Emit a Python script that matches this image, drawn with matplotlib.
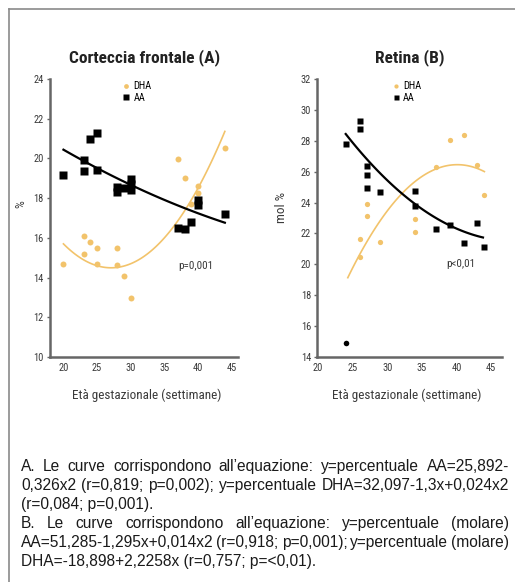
import matplotlib
matplotlib.use('Agg')
import matplotlib.pyplot as plt
import numpy as np
from matplotlib.lines import Line2D

# ---- data ----
# Corteccia frontale (A)
ctx_dha_x = [20, 23, 23, 24, 25, 25, 28, 28, 29, 30, 37, 38, 39, 40, 40, 44]
ctx_dha_y = [14.67, 16.08, 15.19, 15.8, 15.5, 14.67, 15.5, 14.63, 14.08, 12.95,
             19.99, 19.03, 17.73, 18.59, 18.28, 20.55]
ctx_aa_x = [20, 23, 23, 24, 25, 25, 28, 28, 29, 30, 30, 30, 37, 38, 39, 40, 40, 44]
ctx_aa_y = [19.19, 19.92, 19.38, 20.97, 21.30, 19.42, 18.55, 18.31, 18.51, 18.94,
            18.70, 18.43, 16.48, 16.44, 16.81, 17.92, 17.65, 17.21]
# quadratic trend lines (coefficients, highest power first) and x range
ctx_dha_fit = [0.024, -1.3, 32.097]
ctx_dha_range = (20, 44)
ctx_aa_fit = [0.0017, -0.262, 25.0]
ctx_aa_range = (20, 44)

# Retina (B)
ret_dha_x = [26, 26, 27, 27, 29, 34, 34, 37, 39, 41, 43, 44]
ret_dha_y = [20.46, 21.65, 23.89, 23.16, 21.43, 22.93, 22.08, 26.31, 28.02, 28.38, 26.41, 24.50]
ret_aa_x = [24, 26, 26, 27, 27, 27, 29, 34, 34, 37, 39, 41, 43, 44]
ret_aa_y = [27.77, 29.30, 28.75, 26.39, 25.80, 24.93, 24.68, 24.76, 23.79, 22.26,
            22.55, 21.37, 22.65, 21.09]
ret_out_x = [24]
ret_out_y = [14.9]
ret_dha_fit = [-0.02933, 2.352, -20.70]
ret_dha_range = (24.3, 44)
ret_aa_fit = [0.01172, -1.133, 48.88]
ret_aa_range = (24, 43.8)

xticks = [20, 25, 30, 35, 40, 45]
ctx_yticks = [10, 12, 14, 16, 18, 20, 22, 24]
ret_yticks = [14, 16, 18, 20, 22, 24, 26, 28, 30, 32]

caption = [
    ["A. Le curve corrispondono all\u2019equazione: y=percentuale AA=25,892-",
     "0,326x2 (r=0,819; p=0,002); y=percentuale DHA=32,097-1,3x+0,024x2",
     "(r=0,084; p=0,001)."],
    ["B. Le curve corrispondono all\u2019equazione: y=percentuale (molare)",
     "AA=51,285-1,295x+0,014x2 (r=0,918; p=0,001); y=percentuale (molare)",
     "DHA=-18,898+2,2258x (r=0,757; p=<0,01)."],
]

YEL = '#f2c36b'
AXC = '#666666'
TXT = '#3a3a3a'
NARROW = ['Roboto Condensed', 'Archivo Narrow', 'PT Sans Narrow', 'Liberation Sans Narrow',
          'DejaVu Sans']
CAPF = ['Liberation Sans', 'Arimo', 'DejaVu Sans']

W, H = 515, 582
fig = plt.figure(figsize=(W / 100, H / 100), dpi=100)
fig.patch.set_facecolor('white')

# frame of the figure box (top and left edges)
fig.add_artist(Line2D([9 / W, 1], [1 - 9 / H, 1 - 9 / H], color='#8a8a8a', lw=1.2))
fig.add_artist(Line2D([9 / W, 9 / W], [0, 1 - 9 / H], color='#8a8a8a', lw=1.2))


def style_axes(ax, yticks, xlim, ylim):
    ax.set_xlim(*xlim)
    ax.set_ylim(*ylim)
    ax.set_xticks(xticks)
    ax.set_yticks(yticks)
    for s in ['top', 'right']:
        ax.spines[s].set_visible(False)
    for s in ['left', 'bottom']:
        ax.spines[s].set_color(AXC)
        ax.spines[s].set_linewidth(1.8)
    ax.tick_params(axis='x', length=0, pad=4, labelsize=7.5, labelcolor=TXT)
    ax.tick_params(axis='y', length=2.5, width=1, color=AXC, pad=2, labelsize=7.5, labelcolor=TXT)
    for lab in ax.get_xticklabels() + ax.get_yticklabels():
        lab.set_family(NARROW)


def curve(ax, coef, rng, color, lw):
    xs = np.linspace(rng[0], rng[1], 100)
    ax.plot(xs, np.polyval(coef, xs), color=color, lw=lw, zorder=2)


top_px, bot_px = 79, 357
ax_h = (bot_px - top_px) / H
ax_b = 1 - bot_px / H

# ---- left panel ----
ax1 = fig.add_axes([50 / W, ax_b, 188.3 / W, ax_h])
style_axes(ax1, ctx_yticks, (18, 46), (10, 24))
curve(ax1, ctx_dha_fit, ctx_dha_range, YEL, 1.2)
curve(ax1, ctx_aa_fit, ctx_aa_range, 'black', 1.6)
ax1.plot(ctx_dha_x, ctx_dha_y, 'o', color=YEL, ms=4.3, mec='none', zorder=3, label='DHA')
ax1.plot(ctx_aa_x, ctx_aa_y, 's', color='black', ms=5.5, mec='none', zorder=3, label='AA')
ax1.set_title('Corteccia frontale (A)', family=NARROW, fontweight='bold', fontsize=12.5,
              color='#222222', pad=12)
ax1.set_ylabel('%', family=NARROW, fontsize=9, color=TXT)
ax1.yaxis.set_label_coords(-0.118, 0.55)
ax1.set_xlabel('Et\u00e0 gestazionale (settimane)', family=NARROW, fontsize=9.5, color=TXT)
ax1.xaxis.set_label_coords(0.513, -0.115)
ax1.text(0.774, 0.329, 'p=0,001', transform=ax1.transAxes, family=NARROW, fontsize=8,
         color=TXT, ha='center', va='center')
ax1.legend(loc='upper left', bbox_to_anchor=(0.36, 1.01), frameon=False, handlelength=0.6,
           handletextpad=0.4, labelspacing=0.15, borderpad=0, markerscale=0.8,
           prop={'family': NARROW, 'size': 7.5})

# ---- right panel ----
ax2 = fig.add_axes([317.3 / W, ax_b, 184.4 / W, ax_h])
style_axes(ax2, ret_yticks, (19.9, 46.5), (14, 32))
curve(ax2, ret_dha_fit, ret_dha_range, YEL, 1.2)
curve(ax2, ret_aa_fit, ret_aa_range, 'black', 1.6)
ax2.plot(ret_dha_x, ret_dha_y, 'o', color=YEL, ms=3.8, mec='none', zorder=3, label='DHA')
ax2.plot(ret_aa_x, ret_aa_y, 's', color='black', ms=4.5, mec='none', zorder=3, label='AA')
ax2.plot(ret_out_x, ret_out_y, 'o', color='black', ms=4, mec='none', zorder=3)
ax2.set_title('Retina (B)', family=NARROW, fontweight='bold', fontsize=12.5,
              color='#222222', pad=12)
ax2.set_ylabel('mol %', family=NARROW, fontsize=9.5, color=TXT)
ax2.yaxis.set_label_coords(-0.159, 0.537)
ax2.set_xlabel('Et\u00e0 gestazionale (settimane)', family=NARROW, fontsize=9.5, color=TXT)
ax2.xaxis.set_label_coords(0.485, -0.115)
ax2.text(0.779, 0.334, 'p<0,01', transform=ax2.transAxes, family=NARROW, fontsize=8,
         color=TXT, ha='center', va='center')
ax2.legend(loc='upper left', bbox_to_anchor=(0.38, 1.01), frameon=False, handlelength=0.6,
           handletextpad=0.4, labelspacing=0.15, borderpad=0, markerscale=0.8,
           prop={'family': NARROW, 'size': 7.5})

# ---- caption, justified ----
renderer = fig.canvas.get_renderer()
left_px, right_px = 21, 509

# pick the size at which the tightest line fills the column
probe = fig.text(0, 0, caption[0][1], fontsize=10, family=CAPF)
cap_size = 10 * (right_px - left_px) / probe.get_window_extent(renderer).width
probe.remove()

line_base = [471, 490, 509, 528, 547, 566]
k = 0
for para in caption:
    for i, line in enumerate(para):
        y = 1 - line_base[k] / H
        k += 1
        words = line.split(' ')
        if i == len(para) - 1:
            fig.text(left_px / W, y, line, fontsize=cap_size, family=CAPF,
                     color='#1a1a1a', va='baseline')
            continue
        widths = []
        for w in words:
            t = fig.text(0, 0, w, fontsize=cap_size, family=CAPF)
            widths.append(t.get_window_extent(renderer).width)
            t.remove()
        gap = (right_px - left_px - sum(widths)) / (len(words) - 1)
        x = left_px
        for w, wd in zip(words, widths):
            fig.text(x / W, y, w, fontsize=cap_size, family=CAPF,
                     color='#1a1a1a', va='baseline')
            x += wd + gap

fig.savefig('out.png', dpi=100)
